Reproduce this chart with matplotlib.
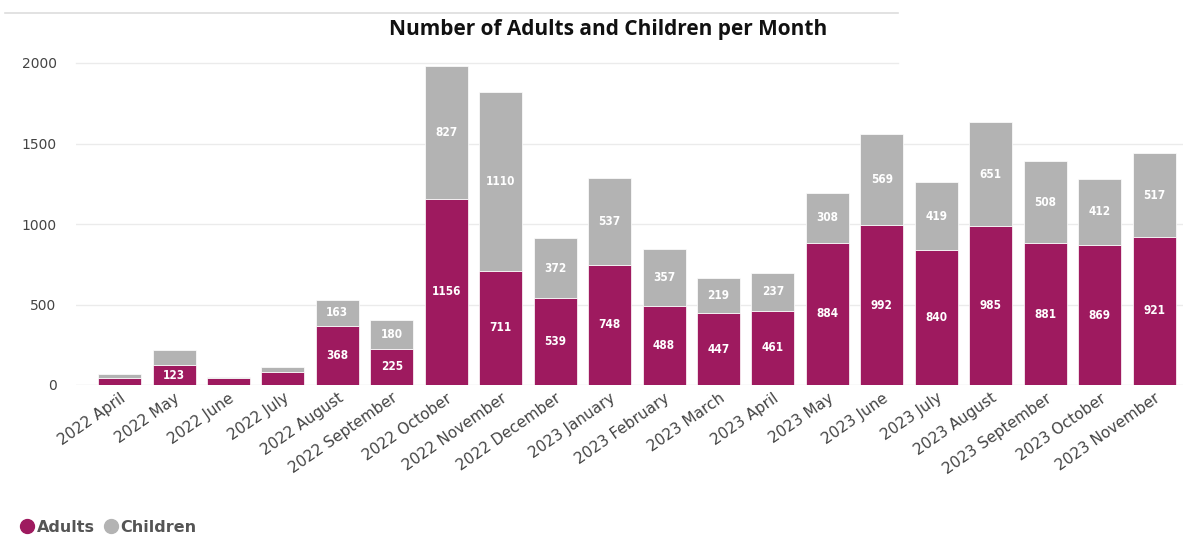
import matplotlib
matplotlib.use("Agg")
import matplotlib.pyplot as plt
from matplotlib.lines import Line2D
import matplotlib.transforms as mtransforms
import numpy as np

months = ["2022 April", "2022 May", "2022 June", "2022 July", "2022 August",
          "2022 September", "2022 October", "2022 November", "2022 December",
          "2023 January", "2023 February", "2023 March", "2023 April", "2023 May",
          "2023 June", "2023 July", "2023 August", "2023 September",
          "2023 October", "2023 November"]
adults = [42, 123, 42, 83, 368, 225, 1156, 711, 539, 748, 488, 447, 461, 884,
          992, 840, 985, 881, 869, 921]
children = [26, 92, 8, 28, 163, 180, 827, 1110, 372, 537, 357, 219, 237, 308,
            569, 419, 651, 508, 412, 517]
yticks = [0, 500, 1000, 1500, 2000]

c_adult = "#9E1A5F"
c_child = "#B3B3B3"

FW, FH = 1185, 537
ax_l, ax_r, ax_b, ax_t = 76, 1183, 385, 63
fig = plt.figure(figsize=(FW/100, FH/100), dpi=100)
ax = fig.add_axes([ax_l/FW, 1-ax_b/FH, (ax_r-ax_l)/FW, (ax_b-ax_t)/FH])
x = np.arange(len(months))
w = 0.79
ax.bar(x, adults, w, color=c_adult, edgecolor="white", linewidth=0.5, zorder=3)
ax.bar(x, children, w, bottom=adults, color=c_child, edgecolor="white", linewidth=0.5, zorder=3)

lab_kw = dict(ha="center", va="center", color="white", fontsize=8.5,
              fontweight="bold", fontstretch="condensed", zorder=4)
for i in range(len(months)):
    if adults[i] >= 100:
        ax.text(x[i], adults[i]/2, str(adults[i]), **lab_kw)
    if children[i] >= 100:
        ax.text(x[i], adults[i] + children[i]/2, str(children[i]), **lab_kw)

ax.set_xlim(-0.80, 19.53)
ax.set_ylim(0, 2000)
ax.set_yticks(yticks)
ax.set_yticklabels([str(v) for v in yticks], fontsize=10, color="#444444")
ax.set_xticks(x)
ax.set_xticklabels(months, rotation=35, ha="right", rotation_mode="anchor",
                   fontsize=11, color="#444444")
shift = mtransforms.ScaledTranslation(-8/100, 0, fig.dpi_scale_trans)
for lbl in ax.get_xticklabels():
    lbl.set_transform(lbl.get_transform() + shift)
ax.tick_params(axis="both", length=0)
ax.tick_params(axis="y", pad=14)
ax.tick_params(axis="x", pad=4)
for s in ax.spines.values():
    s.set_visible(False)
for v in yticks[1:-1]:
    ax.axhline(v, color="#EBEBEB", linewidth=1, zorder=0)
ax.axhline(yticks[-1], xmin=0, xmax=(898-ax_l)/(ax_r-ax_l),
           color="#EBEBEB", linewidth=1, zorder=0, clip_on=False)
ax.axhline(0, color="#E3E3E3", linewidth=1, zorder=1)

fig.text(608/FW, 1-30/FH, "Number of Adults and Children per Month",
         ha="center", va="center", fontsize=15, fontweight="bold",
         family=["Open Sans", "DejaVu Sans"], color="#111111")
fig.add_artist(Line2D([5/FW, 898/FW], [1-13/FH, 1-13/FH],
                      color="#DDDDDD", linewidth=1.2))

handles = [Line2D([], [], marker="o", linestyle="", color=c_adult, markersize=10),
           Line2D([], [], marker="o", linestyle="", color=c_child, markersize=10)]
leg = fig.legend(handles, ["Adults", "Children"], loc="center left",
                 bbox_to_anchor=(5/FW, 1-527/FH), ncol=2, frameon=False,
                 handletextpad=0.1, columnspacing=0.5, handlelength=1.0,
                 prop={"weight": "bold", "size": 11.5})
for t in leg.get_texts():
    t.set_color("#555555")

fig.savefig("out.png", dpi=100)
